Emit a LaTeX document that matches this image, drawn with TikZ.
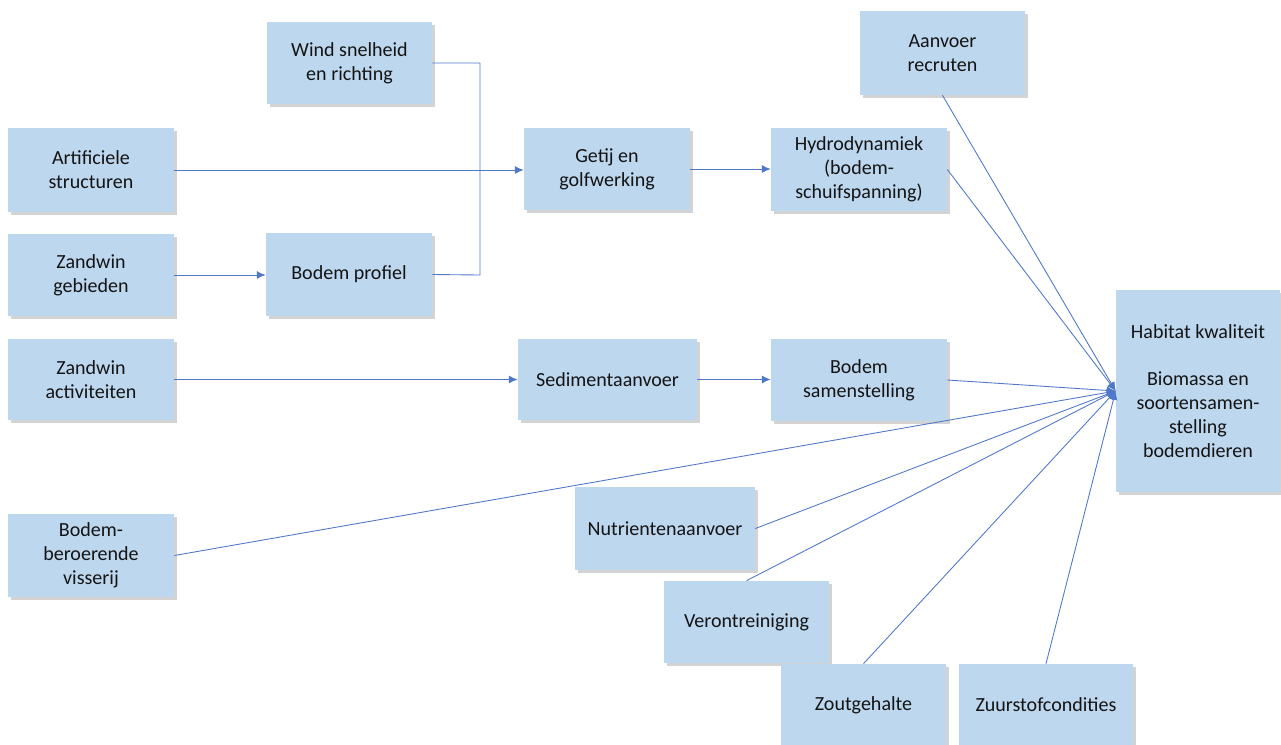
\documentclass[tikz,border=0pt]{standalone}
\usepackage{fontspec}
\setmainfont{Carlito}
\usetikzlibrary{shadows, arrows.meta}
\definecolor{blokblauw}{RGB}{189,215,238}
\definecolor{lijnblauw}{RGB}{79,120,200}
\tikzset{>={Latex[length=5pt, width=4.5pt]}}
\tikzset{
	blok/.style={fill=blokblauw, align=center, inner sep=2pt, text=black!92,
		font=\fontsize{11.4}{13.6}\selectfont,
		drop shadow={shadow xshift=1.6pt, shadow yshift=-1.6pt, opacity=0.35}},
	lijn/.style={draw=lijnblauw, line width=0.5pt}
}
\newcommand{\blok}[5]{
	\node[blok, minimum width=#3cm, minimum height=#4cm](#1) at #2 {#5}
}

\begin{document}
\begin{tikzpicture}[x=0.02cm, y=-0.02cm]
    \useasboundingbox (0, 0) rectangle (1281, 744);
    \blok{wind}{(349.5, 63)}{3.30}{1.64}{Wind snelheid\\en richting};
    \blok{artif}{(91, 170)}{3.32}{1.68}{Artificiele\\structuren};
    \blok{zgeb}{(91, 275)}{3.32}{1.64}{Zandwin\\gebieden};
    \blok{bprof}{(349, 274.5)}{3.32}{1.66}{Bodem profiel};
    \blok{zact}{(91, 379.5)}{3.32}{1.62}{Zandwin\\activiteiten};
    \blok{getij}{(607, 169)}{3.32}{1.64}{Getij en\\golfwerking};
    \blok{hydro}{(859, 169.5)}{3.52}{1.66}{Hydrodynamiek\\(bodem-\\schuifspanning)};
    \blok{recr}{(942.5, 53)}{3.30}{1.68}{Aanvoer\\recruten};
    \blok{sedi}{(607.5, 379.5)}{3.58}{1.62}{Sedimentaanvoer};
    \blok{bsam}{(859, 380)}{3.52}{1.64}{Bodem\\samenstelling};
    \blok{hab}{(1198, 391)}{3.28}{4.04}{Habitat kwaliteit\\[13.6pt]Biomassa en\\soortensamen-\\stelling\\bodemdieren};
    \blok{viss}{(91, 555.5)}{3.32}{1.66}{Bodem-\\beroerende\\visserij};
    \blok{nutr}{(665, 528.5)}{3.60}{1.66}{Nutrientenaanvoer};
    \blok{veron}{(746.5, 622)}{3.30}{1.64}{Verontreiniging};
    \blok{zout}{(863.5, 705)}{3.30}{1.64}{Zoutgehalte};
    \blok{zuur}{(1046, 705)}{3.48}{1.64}{Zuurstofcondities};
    \coordinate (knik) at (480, 275);
    \draw[lijn](wind.east) -| (knik) -- (bprof.east);
    \draw[lijn, ->](artif.east) -- (getij.west |- artif.east);
    \draw[lijn, ->](zgeb.east) -- (bprof.west |- zgeb.east);
    \draw[lijn, ->](zact.east) -- (sedi.west |- zact.east);
    \draw[lijn, ->](getij.east) -- (hydro.west |- getij.east);
    \draw[lijn, ->](sedi.east) -- (bsam.west |- sedi.east);
    \foreach \van in {recr.south, hydro.east, bsam.east, viss.east, nutr.east, veron.north, zout.north, zuur.north}
        \draw[lijn, ->](\van) -- (hab.west);
\end{tikzpicture}
\end{document}
